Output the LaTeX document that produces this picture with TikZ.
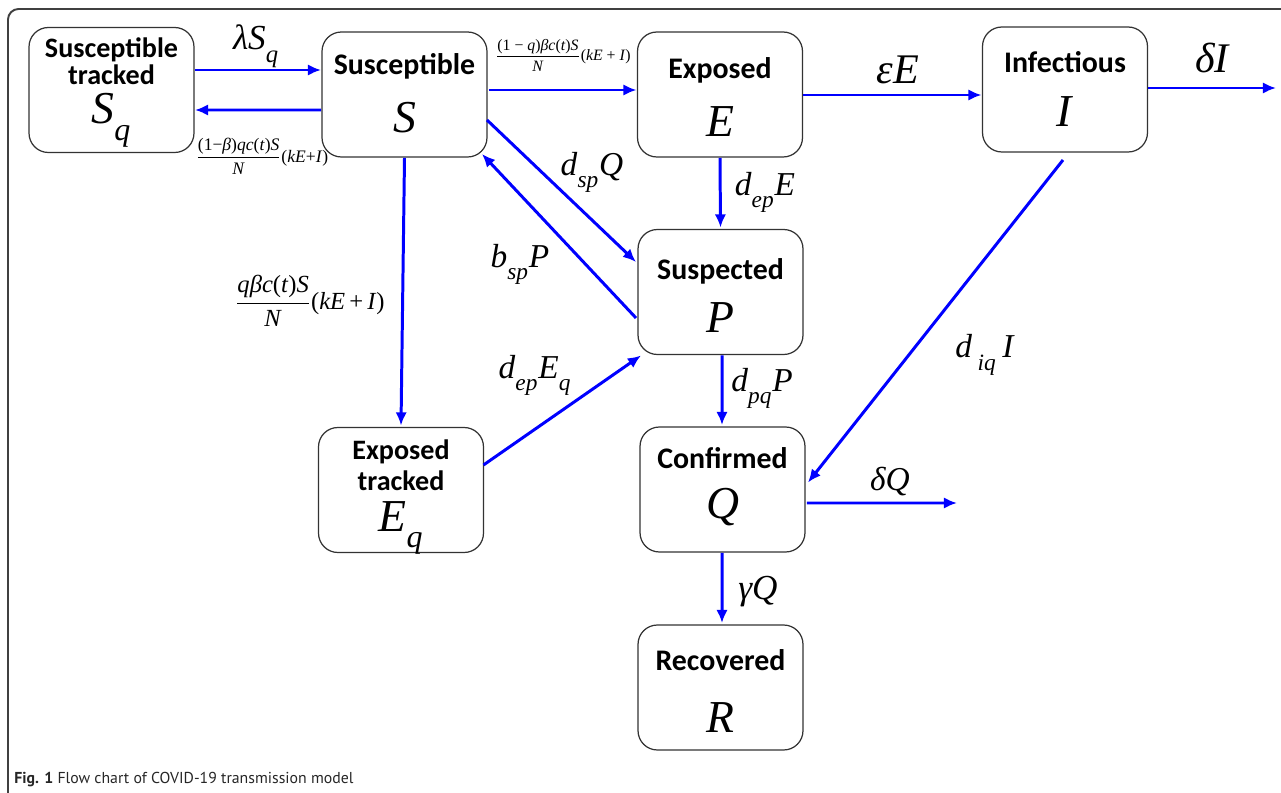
\documentclass[tikz,border=0pt]{standalone}
\usepackage{fontspec}
\setmainfont{Liberation Serif}
\newfontfamily\boxfont{Carlito}
\newfontfamily\capfont{PT Sans}
\usetikzlibrary{positioning}
\usetikzlibrary{calc}
\usetikzlibrary{arrows.meta}

\newcommand{\vv}[1]{\textit{#1}}
\newcommand{\sub}[1]{\raisebox{-0.22em}{\textsubscript{\textit{#1}}}}

\tikzset{
	compartment/.style={draw=black!80,line width=0.7pt,rounded corners=11pt,minimum width=3.3cm,minimum height=2.5cm,inner sep=0pt,outer sep=0pt},
	ttl/.style={font=\boxfont\bfseries\fontsize{17}{17}\selectfont,align=center,inner sep=0pt},
	var/.style={font=\fontsize{26}{26}\selectfont,inner sep=0pt},
	rate/.style={font=\fontsize{19}{19}\selectfont,inner sep=0pt},
	flow/.style={draw=blue,line width=1.7pt,-{Latex[length=7.5pt,width=6.5pt]}},
}

\begin{document}
\begin{tikzpicture}[x=0.02cm,y=-0.02cm]
	\useasboundingbox (0,0) rectangle (1281,793);
	\clip (0,0) rectangle (1281,793);
	\draw[black!75,line width=1.1pt,rounded corners=6pt] (8,9) rectangle (1330,830);
	
	% compartments
	\node[compartment] (Sq) at (111.5,90) {};
	\node[compartment] (S) at (404.5,94.5) {};
	\node[compartment] (E) at (720,94.5) {};
	\node[compartment] (I) at (1065,89.5) {};
	\node[compartment] (P) at (720.5,292) {};
	\node[compartment] (Eq) at (401,490) {};
	\node[compartment] (Q) at (722.5,489.5) {};
	\node[compartment] (R) at (720.5,687.5) {};
	
	% box texts
	\node[ttl,font=\boxfont\bfseries\fontsize{16}{15.4}\selectfont] (Sq-t) at ($(Sq.north)+(0,34)$) {Susceptible\\tracked};
	\node[var] (Sq-v) at ($(Sq.center)+(0,30)$) {\vv{S}\sub{q}};
	\node[ttl] (S-t) at ($(S.north)+(0,34)$) {Susceptible};
	\node[var] (S-v) at ($(S.center)+(0,23)$) {\vv{S}};
	\node[ttl] (E-t) at ($(E.north)+(0,38)$) {Exposed};
	\node[var] (E-v) at ($(E.center)+(0,27)$) {\vv{E}};
	\node[ttl] (I-t) at ($(I.north)+(0,35)$) {Infectious};
	\node[var] (I-v) at ($(I.center)+(0,22)$) {\vv{I}};
	\node[ttl] (P-t) at ($(P.north)+(0,42)$) {Suspected};
	\node[var] (P-v) at ($(P.center)+(0,26)$) {\vv{P}};
	\node[ttl,font=\boxfont\bfseries\fontsize{16}{17.5}\selectfont] (Eq-t) at ($(Eq.north)+(0,38)$) {Exposed\\tracked};
	\node[var] (Eq-v) at ($(Eq.center)+(0,38)$) {\vv{E}\sub{q}};
	\node[ttl] (Q-t) at ($(Q.north)+(0,31)$) {Confirmed};
	\node[var] (Q-v) at ($(Q.center)+(0,18)$) {\vv{Q}};
	\node[ttl] (R-t) at ($(R.north)+(0,35)$) {Recovered};
	\node[var] (R-v) at ($(R.center)+(0,30)$) {\vv{R}};
	
	% free ends
	\coordinate (I-out) at (1276,88);
	\coordinate (Q-out) at (957,503);
	
	% flows
	\draw[flow] ($(Sq.east)+(1,-20)$) -- ($(S.west)+(-1,-24.5)$);
	\draw[flow] ($(S.west)+(-1,15.5)$) -- ($(Sq.east)+(1,20)$);
	\draw[flow] ($(S.east)+(2,-4.5)$) -- ($(E.west)+(-1,-4.5)$);
	\draw[flow] ($(E.east)+(1,0.5)$) -- ($(I.west)+(-1,5.5)$);
	\draw[flow] ($(I.east)+(1,-1.5)$) -- (I-out);
	\draw[flow] ($(S.south)+(0,1)$) -- ($(Eq.north)+(0,-2)$);
	\draw[flow] ($(S.east)+(0,25.5)$) -- ($(P.west)+(-2,-30)$);
	\draw[flow] ($(P.west)+(-2,26)$) -- ($(S.south east)+(-5,-3)$);
	\draw[flow] ($(E.south)+(0,1)$) -- ($(P.north)+(0,-2)$);
	\draw[flow] ($(Eq.east)+(0,-25)$) -- ($(P.south west)+(3,1)$);
	\draw[flow] ($(I.south)+(-2,8)$) -- ($(Q.east)+(3,-7)$);
	\draw[flow] ($(P.south)+(1.5,1)$) -- ($(Q.north)+(-0.5,-2)$);
	\draw[flow] ($(Q.east)+(2,13.5)$) -- (Q-out);
	\draw[flow] ($(Q.south)+(-0.5,1)$) -- ($(R.north)+(1.5,-2)$);
	
	% rates
	\node[rate,font=\fontsize{20}{20}\selectfont] (r-lam) at (256,46) {\vv{λS}\sub{q}};
	\node[rate,font=\fontsize{10}{10}\selectfont] (r-back) at (262,156) {$\displaystyle\frac{\mbox{(1−\vv{β})\vv{qc}(\vv{t})\vv{S}}}{\mbox{\vv{N}}}$\mbox{(\vv{kE}+\vv{I})}};
	\node[rate,font=\fontsize{9}{9}\selectfont] (r-se) at (563,55) {$\displaystyle\frac{\mbox{(1 − \vv{q})\vv{βc}(\vv{t})\vv{S}}}{\mbox{\vv{N}}}$\mbox{(\vv{kE} + \vv{I})}};
	\node[rate,font=\fontsize{24}{24}\selectfont] (r-eps) at (898,70) {\vv{εE}};
	\node[rate,font=\fontsize{24}{24}\selectfont] (r-dI) at (1213,58) {\vv{δI}};
	\node[rate,font=\fontsize{14}{14}\selectfont] (r-seq) at (310,301) {$\displaystyle\frac{\mbox{\vv{qβc}(\vv{t})\vv{S}}}{\mbox{\vv{N}}}$\mbox{(\vv{kE}\,+\,\vv{I})}};
	\node[rate] (r-dsp) at (592,172) {\vv{d}\sub{sp}\vv{Q}};
	\node[rate] (r-bsp) at (520,264) {\vv{b}\sub{sp}\vv{P}};
	\node[rate] (r-dep) at (765,192) {\vv{d}\sub{ep}\vv{E}};
	\node[rate] (r-depq) at (535,375) {\vv{d}\sub{ep}\vv{E}\sub{q}};
	\node[rate] (r-diq) at (985,355) {\vv{d}\,\sub{iq}\,\vv{I}};
	\node[rate] (r-dpq) at (762,388) {\vv{d}\sub{pq}\vv{P}};
	\node[rate] (r-dQ) at (890,482) {\vv{δQ}};
	\node[rate,font=\fontsize{20}{20}\selectfont] (r-gam) at (758,592) {\vv{γQ}};
	
	\node[anchor=base west,inner sep=0pt,text=black!85,font=\capfont\fontsize{9}{11}\selectfont] (cap) at (14,783) {\textbf{Fig. 1} Flow chart of COVID-19 transmission model};
\end{tikzpicture}
\end{document}
